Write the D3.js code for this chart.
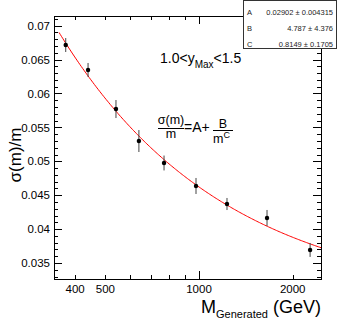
<!DOCTYPE html>
<html>
<head>
<meta charset="utf-8">
<script src="https://cdn.jsdelivr.net/npm/d3@7"></script>
<style>
body{margin:0;background:#fff;}
text{font-family:"Liberation Sans",Arial,sans-serif;}
</style>
</head>
<body>
<svg id="chart" width="338" height="322"></svg>
<script>
// measured points
var massValues = [373, 440, 541, 641, 772, 978, 1230, 1654, 2275];
var widthValues = [0.06715, 0.06347, 0.05771, 0.05299, 0.04975, 0.04636, 0.0437, 0.04164, 0.03692];
var widthErrors = [0.00103, 0.00103, 0.00133, 0.00162, 0.0011, 0.00118, 0.00089, 0.00118, 0.00103];

// fit parameters  A + B/m^C
var parNames = ["A", "B", "C"];
var parValues = [0.02902, 4.787, 0.8149];
var parLabels = ["0.02902 \u00b1 0.004315", "4.787 \u00b1 4.376", "0.8149 \u00b1 0.1705"];
var fitRange = [355, 2466];

var xTickLabels = [400, 500, 1000, 2000];
var xMinorTicks = [400, 500, 600, 700, 800, 900, 2000];
var xMajorTicks = [1000];
var yTickLabels = ["0.035", "0.04", "0.045", "0.05", "0.055", "0.06", "0.065", "0.07"];

var svg = d3.select("#chart");
var fLeft = 54, fRight = 321, fTop = 16, fBottom = 279;

var x = d3.scaleLog().domain([342, 2466]).range([fLeft, fRight]);
var y = d3.scaleLinear().domain([0.03264, 0.07143]).range([fBottom, fTop]);

// y ticks (left and right)
var yMinor = d3.range(33, 72).map(function(d){return d/1000;});
var yt = svg.append("g").attr("stroke", "#000").attr("stroke-width", 1);
yMinor.forEach(function(v){
    if(v < y.domain()[0] || v > y.domain()[1]) return;
    var major = Math.round(v*1000) % 5 == 0;
    var len = major ? 8 : 4;
    var py = Math.round(y(v)) + 0.5;
    yt.append("line").attr("x1", fLeft).attr("x2", fLeft+len).attr("y1", py).attr("y2", py);
    yt.append("line").attr("x1", fRight).attr("x2", fRight-len).attr("y1", py).attr("y2", py);
});
yTickLabels.forEach(function(s){
    svg.append("text")
        .attr("x", 50).attr("y", y(+s)).attr("dy", "0.36em")
        .attr("text-anchor", "end").attr("font-size", 11.5).attr("fill", "#000")
        .text(s);
});

// x ticks (bottom and top)
var xt = svg.append("g").attr("stroke", "#000").attr("stroke-width", 1);
xMinorTicks.concat(xMajorTicks).forEach(function(v){
    var len = xMajorTicks.indexOf(v) >= 0 ? 8 : 4;
    var px = Math.round(x(v)) + 0.5;
    xt.append("line").attr("x1", px).attr("x2", px).attr("y1", fBottom).attr("y2", fBottom-len);
    xt.append("line").attr("x1", px).attr("x2", px).attr("y1", fTop).attr("y2", fTop+len);
});
xTickLabels.forEach(function(v){
    svg.append("text")
        .attr("x", x(v)).attr("y", 293)
        .attr("text-anchor", "middle").attr("font-size", 11.5).attr("fill", "#000")
        .text(v);
});

// frame
svg.append("rect")
    .attr("x", fLeft+0.5).attr("y", fTop+0.5)
    .attr("width", fRight-fLeft).attr("height", fBottom-fTop)
    .attr("fill", "none").attr("stroke", "#000");

// fit curve
var fitPoints = d3.range(0, 201).map(function(i){
    var m = fitRange[0]*Math.pow(fitRange[1]/fitRange[0], i/200);
    return [m, parValues[0] + parValues[1]/Math.pow(m, parValues[2])];
});
var line = d3.line()
    .x(function(d){return x(d[0]);})
    .y(function(d){return y(d[1]);});
svg.append("path")
    .datum(fitPoints)
    .attr("d", line)
    .attr("fill", "none").attr("stroke", "#ff0000").attr("stroke-width", 1);

// error bars and points
var pts = massValues.map(function(m, i){return {m:m, v:widthValues[i], e:widthErrors[i]};});
svg.selectAll("line.err")
    .data(pts)
    .enter()
    .append("line")
    .attr("class", "err")
    .attr("x1", function(d){return x(d.m);})
    .attr("x2", function(d){return x(d.m);})
    .attr("y1", function(d){return y(d.v - d.e);})
    .attr("y2", function(d){return y(d.v + d.e);})
    .attr("stroke", "#444").attr("stroke-width", 1);
svg.selectAll("circle.pt")
    .data(pts)
    .enter()
    .append("circle")
    .attr("class", "pt")
    .attr("cx", function(d){return x(d.m);})
    .attr("cy", function(d){return y(d.v);})
    .attr("r", 2.2)
    .attr("fill", "#000");

// axis titles
svg.append("text")
    .attr("transform", "translate(21,155) rotate(-90)")
    .attr("text-anchor", "middle").attr("font-size", 17)
    .text("\u03c3(m)/m");

var xtitle = svg.append("text")
    .attr("x", 321).attr("y", 313)
    .attr("text-anchor", "end").attr("font-size", 18);
xtitle.append("tspan").text("M");
xtitle.append("tspan").attr("font-size", 11).attr("dy", 5).text("Generated");
xtitle.append("tspan").attr("dy", -5).text(" (GeV)");

// rapidity label
var ylab = svg.append("text")
    .attr("x", 160).attr("y", 63).attr("font-size", 14);
ylab.append("tspan").text("1.0<y");
ylab.append("tspan").attr("font-size", 10).attr("dy", 5).text("Max");
ylab.append("tspan").attr("dy", -5).text("<1.5");

// formula
var f = svg.append("g").attr("font-size", 12.5);
f.append("text").attr("x", 171).attr("y", 123.5).attr("text-anchor", "middle").text("\u03c3(m)");
f.append("line").attr("x1", 158).attr("x2", 184).attr("y1", 128.5).attr("y2", 128.5).attr("stroke", "#000");
f.append("text").attr("x", 171).attr("y", 138).attr("text-anchor", "middle").text("m");
f.append("text").attr("x", 184).attr("y", 132).attr("font-size", 14).text("=A+");
f.append("text").attr("x", 223).attr("y", 128).attr("text-anchor", "middle").text("B");
f.append("line").attr("x1", 213).attr("x2", 233).attr("y1", 130.5).attr("y2", 130.5).attr("stroke", "#000");
f.append("text").attr("x", 213).attr("y", 143).text("m");
f.append("text").attr("x", 223.5).attr("y", 138).attr("font-size", 9).text("C");

// stats box
svg.append("rect")
    .attr("x", 243.5).attr("y", 0.5).attr("width", 93).attr("height", 48)
    .attr("fill", "#fff").attr("stroke", "#333");
parNames.forEach(function(n, i){
    var py = 12 + i*16;
    svg.append("text").attr("x", 247).attr("y", py).attr("dy", "0.35em")
        .attr("font-size", 7.5).attr("fill", "#222").text(n);
    svg.append("text").attr("x", 333).attr("y", py).attr("dy", "0.35em")
        .attr("text-anchor", "end").attr("font-size", 7.5).attr("fill", "#222").text(parLabels[i]);
});
</script>
</body>
</html>
